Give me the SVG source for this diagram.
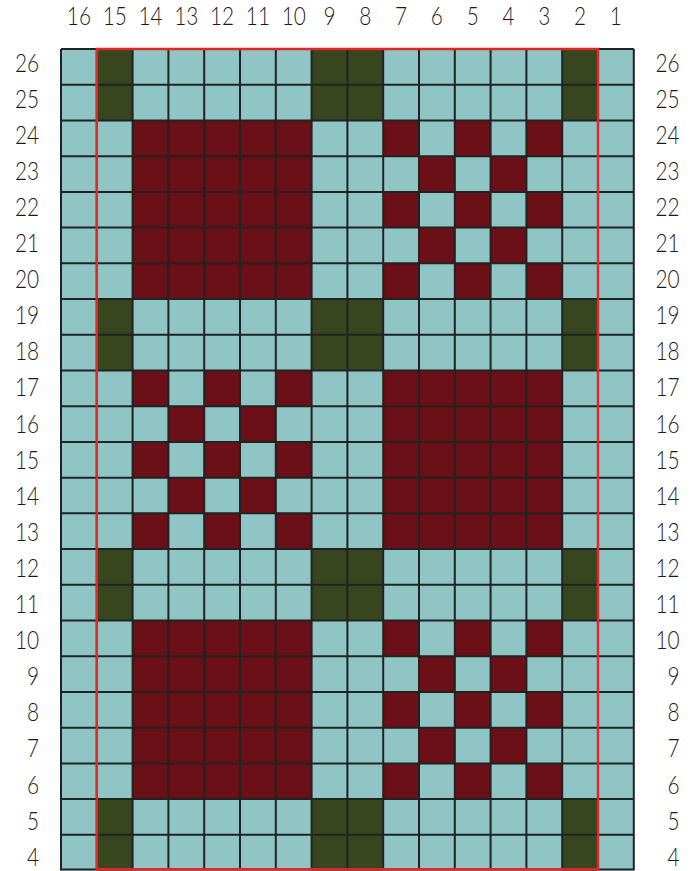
<svg xmlns="http://www.w3.org/2000/svg" xmlns:xlink="http://www.w3.org/1999/xlink" width="694" height="871" viewBox="0 0 694 871">
<style>
.bg{fill:#ffffff}
.cy{fill:#8fc5c5}
.mr{fill:#6a1016}
.gr{fill:#38461f}
.grid{fill:none;stroke:#222222;stroke-width:2}
.frame{fill:none;stroke:#e3262a;stroke-width:2.5}
.lbl{font-family:Lato,"Liberation Sans",Arial,sans-serif;font-weight:300;font-size:26px;fill:#1a1a1a}
.mid{text-anchor:middle}
.end{text-anchor:end}
</style>
<defs>
<rect id="m" class="mr" width="35.8" height="35.72"/>
</defs>
<rect class="bg" x="0" y="0" width="694" height="871"/>
<g id="grid-fill">
<rect class="cy" x="61" y="49" width="572.8" height="821.56"/>
</g>
<g id="green-cells">
<rect class="gr" x="96.8" y="49" width="35.8" height="71.44"/>
<rect class="gr" x="311.6" y="49" width="71.6" height="71.44"/>
<rect class="gr" x="562.2" y="49" width="35.8" height="71.44"/>
<rect class="gr" x="96.8" y="299.04" width="35.8" height="71.44"/>
<rect class="gr" x="311.6" y="299.04" width="71.6" height="71.44"/>
<rect class="gr" x="562.2" y="299.04" width="35.8" height="71.44"/>
<rect class="gr" x="96.8" y="549.08" width="35.8" height="71.44"/>
<rect class="gr" x="311.6" y="549.08" width="71.6" height="71.44"/>
<rect class="gr" x="562.2" y="549.08" width="35.8" height="71.44"/>
<rect class="gr" x="96.8" y="799.12" width="35.8" height="71.44"/>
<rect class="gr" x="311.6" y="799.12" width="71.6" height="71.44"/>
<rect class="gr" x="562.2" y="799.12" width="35.8" height="71.44"/>
</g>
<g id="solid-blocks">
<rect class="mr" x="132.6" y="120.44" width="179" height="178.6"/>
<rect class="mr" x="383.2" y="370.48" width="179" height="178.6"/>
<rect class="mr" x="132.6" y="620.52" width="179" height="178.6"/>
</g>
<g id="check-block-upper-right">
<use xlink:href="#m" x="383.2" y="120.44"/><use xlink:href="#m" x="454.8" y="120.44"/><use xlink:href="#m" x="526.4" y="120.44"/>
<use xlink:href="#m" x="419" y="156.16"/><use xlink:href="#m" x="490.6" y="156.16"/>
<use xlink:href="#m" x="383.2" y="191.88"/><use xlink:href="#m" x="454.8" y="191.88"/><use xlink:href="#m" x="526.4" y="191.88"/>
<use xlink:href="#m" x="419" y="227.6"/><use xlink:href="#m" x="490.6" y="227.6"/>
<use xlink:href="#m" x="383.2" y="263.32"/><use xlink:href="#m" x="454.8" y="263.32"/><use xlink:href="#m" x="526.4" y="263.32"/>
</g>
<g id="check-block-middle-left">
<use xlink:href="#m" x="132.6" y="370.48"/><use xlink:href="#m" x="204.2" y="370.48"/><use xlink:href="#m" x="275.8" y="370.48"/>
<use xlink:href="#m" x="168.4" y="406.2"/><use xlink:href="#m" x="240" y="406.2"/>
<use xlink:href="#m" x="132.6" y="441.92"/><use xlink:href="#m" x="204.2" y="441.92"/><use xlink:href="#m" x="275.8" y="441.92"/>
<use xlink:href="#m" x="168.4" y="477.64"/><use xlink:href="#m" x="240" y="477.64"/>
<use xlink:href="#m" x="132.6" y="513.36"/><use xlink:href="#m" x="204.2" y="513.36"/><use xlink:href="#m" x="275.8" y="513.36"/>
</g>
<g id="check-block-lower-right">
<use xlink:href="#m" x="383.2" y="620.52"/><use xlink:href="#m" x="454.8" y="620.52"/><use xlink:href="#m" x="526.4" y="620.52"/>
<use xlink:href="#m" x="419" y="656.24"/><use xlink:href="#m" x="490.6" y="656.24"/>
<use xlink:href="#m" x="383.2" y="691.96"/><use xlink:href="#m" x="454.8" y="691.96"/><use xlink:href="#m" x="526.4" y="691.96"/>
<use xlink:href="#m" x="419" y="727.68"/><use xlink:href="#m" x="490.6" y="727.68"/>
<use xlink:href="#m" x="383.2" y="763.4"/><use xlink:href="#m" x="454.8" y="763.4"/><use xlink:href="#m" x="526.4" y="763.4"/>
</g>
<g id="grid-lines">
<path class="grid" d="M61 49V870.56M96.8 49V870.56M132.6 49V870.56M168.4 49V870.56M204.2 49V870.56M240 49V870.56M275.8 49V870.56M311.6 49V870.56M347.4 49V870.56M383.2 49V870.56M419 49V870.56M454.8 49V870.56M490.6 49V870.56M526.4 49V870.56M562.2 49V870.56M598 49V870.56M633.8 49V870.56
M61 49H633.8M61 84.72H633.8M61 120.44H633.8M61 156.16H633.8M61 191.88H633.8M61 227.6H633.8M61 263.32H633.8M61 299.04H633.8M61 334.76H633.8M61 370.48H633.8M61 406.2H633.8M61 441.92H633.8M61 477.64H633.8M61 513.36H633.8M61 549.08H633.8M61 584.8H633.8M61 620.52H633.8M61 656.24H633.8M61 691.96H633.8M61 727.68H633.8M61 763.4H633.8M61 799.12H633.8M61 834.84H633.8M61 869.6H633.8"/>
</g>
<g id="frame">
<rect class="frame" x="96.8" y="49" width="501.2" height="820.3"/>
</g>
<g id="top-labels" class="lbl mid">
<text transform="translate(78.9 25) scale(0.8 1)">16</text>
<text transform="translate(114.7 25) scale(0.8 1)">15</text>
<text transform="translate(150.5 25) scale(0.8 1)">14</text>
<text transform="translate(186.3 25) scale(0.8 1)">13</text>
<text transform="translate(222.1 25) scale(0.8 1)">12</text>
<text transform="translate(257.9 25) scale(0.8 1)">11</text>
<text transform="translate(293.7 25) scale(0.8 1)">10</text>
<text transform="translate(329.5 25) scale(0.8 1)">9</text>
<text transform="translate(365.3 25) scale(0.8 1)">8</text>
<text transform="translate(401.1 25) scale(0.8 1)">7</text>
<text transform="translate(436.9 25) scale(0.8 1)">6</text>
<text transform="translate(472.7 25) scale(0.8 1)">5</text>
<text transform="translate(508.5 25) scale(0.8 1)">4</text>
<text transform="translate(544.3 25) scale(0.8 1)">3</text>
<text transform="translate(580.1 25) scale(0.8 1)">2</text>
<text transform="translate(615.9 25) scale(0.8 1)">1</text>
</g>
<g id="left-labels" class="lbl end">
<text transform="translate(39 71.5) scale(0.8 1)">26</text>
<text transform="translate(39 107.6) scale(0.8 1)">25</text>
<text transform="translate(39 143.7) scale(0.8 1)">24</text>
<text transform="translate(39 179.8) scale(0.8 1)">23</text>
<text transform="translate(39 215.9) scale(0.8 1)">22</text>
<text transform="translate(39 252) scale(0.8 1)">21</text>
<text transform="translate(39 288.1) scale(0.8 1)">20</text>
<text transform="translate(39 324.2) scale(0.8 1)">19</text>
<text transform="translate(39 360.3) scale(0.8 1)">18</text>
<text transform="translate(39 396.4) scale(0.8 1)">17</text>
<text transform="translate(39 432.5) scale(0.8 1)">16</text>
<text transform="translate(39 468.6) scale(0.8 1)">15</text>
<text transform="translate(39 504.7) scale(0.8 1)">14</text>
<text transform="translate(39 540.8) scale(0.8 1)">13</text>
<text transform="translate(39 576.9) scale(0.8 1)">12</text>
<text transform="translate(39 613) scale(0.8 1)">11</text>
<text transform="translate(39 649.1) scale(0.8 1)">10</text>
<text transform="translate(39 685.2) scale(0.8 1)">9</text>
<text transform="translate(39 721.3) scale(0.8 1)">8</text>
<text transform="translate(39 757.4) scale(0.8 1)">7</text>
<text transform="translate(39 793.5) scale(0.8 1)">6</text>
<text transform="translate(39 829.6) scale(0.8 1)">5</text>
<text transform="translate(39 865.7) scale(0.8 1)">4</text>
</g>
<g id="right-labels" class="lbl end">
<text transform="translate(679.5 71.5) scale(0.8 1)">26</text>
<text transform="translate(679.5 107.6) scale(0.8 1)">25</text>
<text transform="translate(679.5 143.7) scale(0.8 1)">24</text>
<text transform="translate(679.5 179.8) scale(0.8 1)">23</text>
<text transform="translate(679.5 215.9) scale(0.8 1)">22</text>
<text transform="translate(679.5 252) scale(0.8 1)">21</text>
<text transform="translate(679.5 288.1) scale(0.8 1)">20</text>
<text transform="translate(679.5 324.2) scale(0.8 1)">19</text>
<text transform="translate(679.5 360.3) scale(0.8 1)">18</text>
<text transform="translate(679.5 396.4) scale(0.8 1)">17</text>
<text transform="translate(679.5 432.5) scale(0.8 1)">16</text>
<text transform="translate(679.5 468.6) scale(0.8 1)">15</text>
<text transform="translate(679.5 504.7) scale(0.8 1)">14</text>
<text transform="translate(679.5 540.8) scale(0.8 1)">13</text>
<text transform="translate(679.5 576.9) scale(0.8 1)">12</text>
<text transform="translate(679.5 613) scale(0.8 1)">11</text>
<text transform="translate(679.5 649.1) scale(0.8 1)">10</text>
<text transform="translate(679.5 685.2) scale(0.8 1)">9</text>
<text transform="translate(679.5 721.3) scale(0.8 1)">8</text>
<text transform="translate(679.5 757.4) scale(0.8 1)">7</text>
<text transform="translate(679.5 793.5) scale(0.8 1)">6</text>
<text transform="translate(679.5 829.6) scale(0.8 1)">5</text>
<text transform="translate(679.5 865.7) scale(0.8 1)">4</text>
</g>
</svg>
